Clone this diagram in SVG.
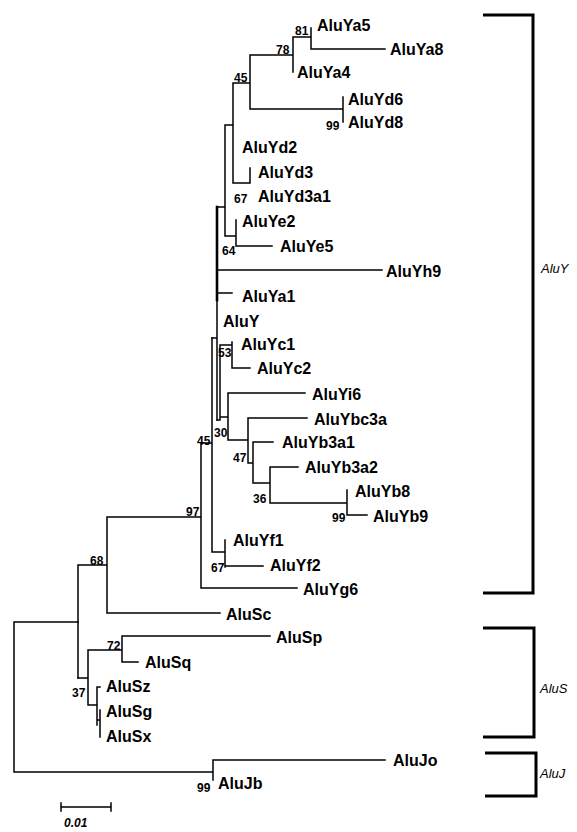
<svg xmlns="http://www.w3.org/2000/svg" width="577" height="832" viewBox="0 0 577 832">
<style>
.e{fill:none;stroke:#000;stroke-width:1.5;stroke-linecap:square}
.thick{stroke-width:2.6}
.br{fill:none;stroke:#000;stroke-width:3}
.lf{font-family:"Liberation Sans",Arial,sans-serif;font-size:16px;font-weight:bold;fill:#000}
.bs{font-family:"Liberation Sans",Arial,sans-serif;font-size:12px;font-weight:bold;fill:#000}
.cl{font-family:"Liberation Sans",Arial,sans-serif;font-size:13px;font-style:italic;fill:#000}
.sc{font-family:"Liberation Sans",Arial,sans-serif;font-size:12px;font-style:italic;font-weight:bold;fill:#000}
</style>
<rect width="577" height="832" fill="#fff"/>
<g id="connectors">
<path class="e" d="M14,622 V772 M14,622 H78 M14,772 H213 M213,760 V780 M213,760 H385"/>
<path class="e" d="M78,565 V678 M78,565 H107 M107,517 V613 M107,613 H220 M107,517 H201 M201,443 V588 M201,588 H297 M201,443 H212 M212,338 V552 M212,552 H225 M225,540 V567 M225,566 H263"/>
<path class="e" d="M78,678 H88 M88,650 V705 M88,650 H122 M122,636 V662 M122,636 H270 M122,662 H138 M88,705 H97 M97,687 V725 M97,687 H100 M97,720 H100 M100,710 V737"/>
<path class="e thick" d="M217,207 V300"/>
<path class="e" d="M217,300 V420 M212,338 H217 M217,207 H225 M225,125 V236 M225,236 H236 M236,220 V246 M236,246 H272 M225,125 H233 M233,83 V183 M233,183 H250 M250,168 V183 M233,83 H250 M250,55 V109 M250,55 H293 M293,37 V72 M293,37 H311 M311,28 V49 M311,49 H385 M250,109 H343 M343,97 V122 M217,270 H382 M217,293 H232"/>
<path class="e" d="M220,345 V420 M217,420 H220 M220,345 H232 M232,342 V368 M232,368 H250 M220,417 H228 M228,393 V440 M228,393 H305 M228,440 H248 M248,418 V463 M248,418 H307 M248,463 H253 M253,442 V483 M253,442 H273 M253,483 H270 M270,467 V503 M270,467 H298 M270,503 H347 M347,490 V515 M347,515 H367"/>
</g>
<g id="leaves">
<g id="n-AluYa5"><text class="lf" x="317" y="31">AluYa5</text></g>
<g id="n-AluYa8"><text class="lf" x="390" y="55">AluYa8</text></g>
<g id="n-AluYa4"><text class="lf" x="297" y="78">AluYa4</text></g>
<g id="n-AluYd6"><text class="lf" x="348" y="105">AluYd6</text></g>
<g id="n-AluYd8"><text class="lf" x="348" y="128">AluYd8</text></g>
<g id="n-AluYd2"><text class="lf" x="242" y="153">AluYd2</text></g>
<g id="n-AluYd3"><text class="lf" x="258" y="178">AluYd3</text></g>
<g id="n-AluYd3a1"><text class="lf" x="258" y="202">AluYd3a1</text></g>
<g id="n-AluYe2"><text class="lf" x="242" y="227">AluYe2</text></g>
<g id="n-AluYe5"><text class="lf" x="280" y="252">AluYe5</text></g>
<g id="n-AluYh9"><text class="lf" x="386" y="277">AluYh9</text></g>
<g id="n-AluYa1"><text class="lf" x="242" y="302">AluYa1</text></g>
<g id="n-AluY"><text class="lf" x="223" y="327">AluY</text></g>
<g id="n-AluYc1"><text class="lf" x="241" y="350">AluYc1</text></g>
<g id="n-AluYc2"><text class="lf" x="257" y="374">AluYc2</text></g>
<g id="n-AluYi6"><text class="lf" x="312" y="400">AluYi6</text></g>
<g id="n-AluYbc3a"><text class="lf" x="314" y="425">AluYbc3a</text></g>
<g id="n-AluYb3a1"><text class="lf" x="282" y="448">AluYb3a1</text></g>
<g id="n-AluYb3a2"><text class="lf" x="305" y="473">AluYb3a2</text></g>
<g id="n-AluYb8"><text class="lf" x="355" y="497">AluYb8</text></g>
<g id="n-AluYb9"><text class="lf" x="373" y="522">AluYb9</text></g>
<g id="n-AluYf1"><text class="lf" x="233" y="546">AluYf1</text></g>
<g id="n-AluYf2"><text class="lf" x="270" y="571">AluYf2</text></g>
<g id="n-AluYg6"><text class="lf" x="303" y="595">AluYg6</text></g>
<g id="n-AluSc"><text class="lf" x="226" y="620">AluSc</text></g>
<g id="n-AluSp"><text class="lf" x="276" y="643">AluSp</text></g>
<g id="n-AluSq"><text class="lf" x="145" y="668">AluSq</text></g>
<g id="n-AluSz"><text class="lf" x="106" y="692">AluSz</text></g>
<g id="n-AluSg"><text class="lf" x="106" y="717">AluSg</text></g>
<g id="n-AluSx"><text class="lf" x="106" y="742">AluSx</text></g>
<g id="n-AluJo"><text class="lf" x="393" y="766">AluJo</text></g>
<g id="n-AluJb"><text class="lf" x="218" y="789">AluJb</text></g>
</g>
<g id="bootstrap">
<text class="bs" x="295" y="35">81</text>
<text class="bs" x="276" y="54">78</text>
<text class="bs" x="234" y="82">45</text>
<text class="bs" x="326" y="130">99</text>
<text class="bs" x="234" y="203">67</text>
<text class="bs" x="222" y="255">64</text>
<text class="bs" x="218" y="357">53</text>
<text class="bs" x="214" y="437">30</text>
<text class="bs" x="197" y="445">45</text>
<text class="bs" x="233" y="462">47</text>
<text class="bs" x="253" y="503">36</text>
<text class="bs" x="332" y="522">99</text>
<text class="bs" x="186" y="516">97</text>
<text class="bs" x="211" y="572">67</text>
<text class="bs" x="90" y="565">68</text>
<text class="bs" x="107" y="650">72</text>
<text class="bs" x="72" y="697">37</text>
<text class="bs" x="197" y="792">99</text>
</g>
<g id="clades">
<g id="clade-AluY"><path class="br" d="M483,15 H533 V593 H483"/><text class="cl" x="541" y="273">AluY</text></g>
<g id="clade-AluS"><path class="br" d="M483,628 H534 V737 H483"/><text class="cl" x="540" y="693">AluS</text></g>
<g id="clade-AluJ"><path class="br" d="M485,753 H536 V796 H485"/><text class="cl" x="540" y="778">AluJ</text></g>
</g>
<g id="scale">
<path class="e" d="M61,807 H111 M61,803 V811 M111,803 V811"/>
<text class="sc" x="64" y="827">0.01</text>
</g>
</svg>
